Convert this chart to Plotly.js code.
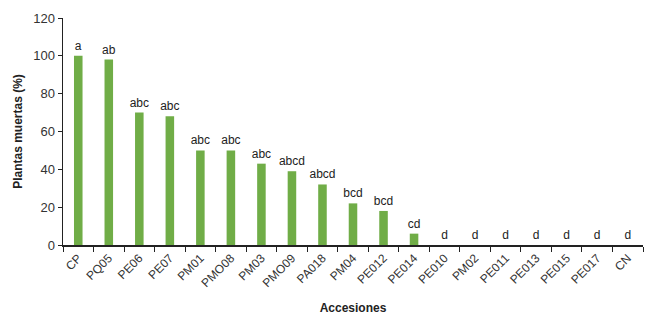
<!DOCTYPE html>
<html>
<head>
<meta charset="utf-8">
<script src="https://cdn.plot.ly/plotly-3.0.1.min.js"></script>
<style>html,body{margin:0;padding:0;background:#fff;}#chart{width:650px;height:327px;}</style>
</head>
<body>
<div id="chart"></div>
<script>
var accesiones = ["CP","PQ05","PE06","PE07","PM01","PMO08","PM03","PMO09","PA018","PM04","PE012","PE014","PE010","PM02","PE011","PE013","PE015","PE017","CN"];
var muertas = [100,98,70,68,50,50,43,39,32,22,18,6,0,0,0,0,0,0,0];
var letras = ["a","ab","abc","abc","abc","abc","abc","abcd","abcd","bcd","bcd","cd","d","d","d","d","d","d","d"];
var yTicks = [0,20,40,60,80,100,120];

var trace = {
  type: "bar",
  x: accesiones,
  y: muertas,
  text: letras,
  textposition: "outside",
  constraintext: "none",
  cliponaxis: false,
  textfont: {family: "Liberation Sans, Arial, sans-serif", size: 12, color: "#222"},
  outsidetextfont: {family: "Liberation Sans, Arial, sans-serif", size: 12, color: "#222"},
  marker: {color: "#70ad47"},
  width: 0.28,
  hoverinfo: "none"
};

var layout = {
  width: 650, height: 327,
  margin: {l: 63, r: 7, t: 18, b: 82},
  paper_bgcolor: "#fff", plot_bgcolor: "#fff",
  font: {family: "Liberation Sans, Arial, sans-serif", size: 12, color: "#333"},
  showlegend: false,
  xaxis: {
    type: "category",
    tickangle: -45,
    showline: true, linecolor: "#222", linewidth: 1.5,
    ticks: "outside", ticklen: 5, tickcolor: "#222",
    tickson: "boundaries",
    tickfont: {size: 12, color: "#333"},
    showgrid: false, zeroline: false,
    title: {text: "<b>Accesiones</b>", font: {size: 12, color: "#222"}, standoff: 14},
    automargin: false
  },
  yaxis: {
    range: [0, 120],
    tickvals: yTicks,
    ticktext: yTicks.map(String),
    showline: true, linecolor: "#222", linewidth: 1.5,
    ticks: "outside", ticklen: 4, tickcolor: "#222",
    tickfont: {size: 13, color: "#333"},
    showgrid: false, zeroline: false,
    title: {text: "<b>Plantas muertas (%)</b>", font: {size: 12, color: "#222"}, standoff: 8},
    automargin: false
  }
};

Plotly.newPlot("chart", [trace], layout, {displayModeBar: false, staticPlot: true});
</script>
</body>
</html>
